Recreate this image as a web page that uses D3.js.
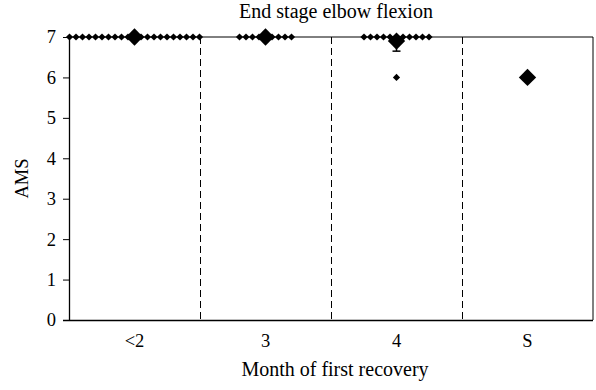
<!DOCTYPE html>
<html>
<head>
<meta charset="utf-8">
<script src="https://cdn.jsdelivr.net/npm/d3@7"></script>
<style>
  body { margin: 0; background: #fff; }
</style>
</head>
<body>
<div id="chart"></div>
<script>
// groups on the x axis
const categories = ['<2', '3', '4', 'S'];
// how many patients scored 7 / 6 in each group
const count7 = [21, 9, 11, 0];
const count6 = [0, 0, 1, 1];
// group means and lower error
const means = [7, 7, 6.9, 6];
const errLow = [0, 0, 0.25, 0];
const yTicks = [0, 1, 2, 3, 4, 5, 6, 7];

const width = 596;
const height = 390;
const margin = { top: 37, right: 3, bottom: 70, left: 69 };
const serif = 'Liberation Serif';

const svg = d3.select('#chart').append('svg')
  .attr('width', width)
  .attr('height', height)
  .style('font-family', serif);

const x = d3.scaleBand()
  .domain(categories)
  .range([margin.left, width - margin.right])
  .padding(0);

const y = d3.scaleLinear()
  .domain([0, 7])
  .range([height - margin.bottom, margin.top]);

// frame (top + right)
svg.append('path')
  .attr('d', `M${margin.left},${margin.top}H${width - margin.right}V${height - margin.bottom}`)
  .attr('fill', 'none')
  .attr('stroke', '#000')
  .attr('stroke-width', 1);

// dashed dividers between groups
svg.append('g')
  .selectAll('line')
  .data(categories.slice(1))
  .enter().append('line')
  .attr('x1', d => x(d) + 0.5)
  .attr('x2', d => x(d) + 0.5)
  .attr('y1', margin.top)
  .attr('y2', height - margin.bottom)
  .attr('stroke', '#000')
  .attr('stroke-dasharray', '7,4');

// y axis
const yAxis = svg.append('g')
  .attr('transform', `translate(${margin.left},0)`)
  .call(d3.axisLeft(y).tickValues(yTicks).tickSize(6).tickSizeOuter(0).tickFormat(d3.format('d')));
yAxis.attr('font-family', serif);
yAxis.select('.domain').attr('stroke-width', 1.3);
yAxis.selectAll('text').attr('font-size', 18.5).attr('x', -13).attr('font-family', serif);

// x axis
const xAxis = svg.append('g')
  .attr('transform', `translate(0,${height - margin.bottom})`)
  .call(d3.axisBottom(x).tickSize(0).tickSizeOuter(0));
xAxis.attr('font-family', serif);
xAxis.select('.domain').attr('stroke-width', 1.5)
  .attr('d', `M${margin.left - 6},0.5H${width - margin.right}`);
xAxis.selectAll('text').attr('font-size', 18.5).attr('dy', '1.3em').attr('font-family', serif);

// titles
svg.append('text')
  .attr('x', 336).attr('y', 18)
  .attr('text-anchor', 'middle')
  .attr('font-size', 20)
  .attr('font-family', serif)
  .text('End stage elbow flexion');

svg.append('text')
  .attr('x', 335).attr('y', 376)
  .attr('text-anchor', 'middle')
  .attr('font-size', 20)
  .attr('font-family', serif)
  .text('Month of first recovery');

svg.append('text')
  .attr('transform', `translate(28,${(margin.top + height - margin.bottom) / 2}) rotate(-90)`)
  .attr('text-anchor', 'middle')
  .attr('font-size', 18.5)
  .attr('font-family', serif)
  .text('AMS');

// individual points, spread sideways around the group centre
const step = 6.5;
const points = [];
categories.forEach((c, i) => {
  [[7, count7[i]], [6, count6[i]]].forEach(([v, n]) => {
    for (let k = 0; k < n; k++) {
      points.push({ cat: c, value: v, off: (k - (n - 1) / 2) * step });
    }
  });
});

const diamond = size => d3.symbol().type(d3.symbolSquare).size(size);

svg.append('g')
  .selectAll('path')
  .data(points)
  .enter().append('path')
  .attr('d', diamond(26)())
  .attr('transform', d => `translate(${x(d.cat) + x.bandwidth() / 2 + d.off},${y(d.value)}) rotate(45)`)
  .attr('fill', '#000');

// error bars (lower side only visible)
const meanData = categories.map((c, i) => ({ cat: c, mean: means[i], err: errLow[i] }));
const eb = svg.append('g')
  .selectAll('g')
  .data(meanData.filter(d => d.err > 0))
  .enter().append('g');
eb.append('line')
  .attr('x1', d => x(d.cat) + x.bandwidth() / 2)
  .attr('x2', d => x(d.cat) + x.bandwidth() / 2)
  .attr('y1', d => y(d.mean))
  .attr('y2', d => y(d.mean - d.err))
  .attr('stroke', '#000').attr('stroke-width', 1.5);
eb.append('line')
  .attr('x1', d => x(d.cat) + x.bandwidth() / 2 - 4)
  .attr('x2', d => x(d.cat) + x.bandwidth() / 2 + 4)
  .attr('y1', d => y(d.mean - d.err))
  .attr('y2', d => y(d.mean - d.err))
  .attr('stroke', '#000').attr('stroke-width', 1.5);

// group means
svg.append('g')
  .selectAll('path')
  .data(meanData)
  .enter().append('path')
  .attr('d', diamond(150)())
  .attr('transform', d => `translate(${x(d.cat) + x.bandwidth() / 2},${y(d.mean)}) rotate(45)`)
  .attr('fill', '#000');
</script>
</body>
</html>
